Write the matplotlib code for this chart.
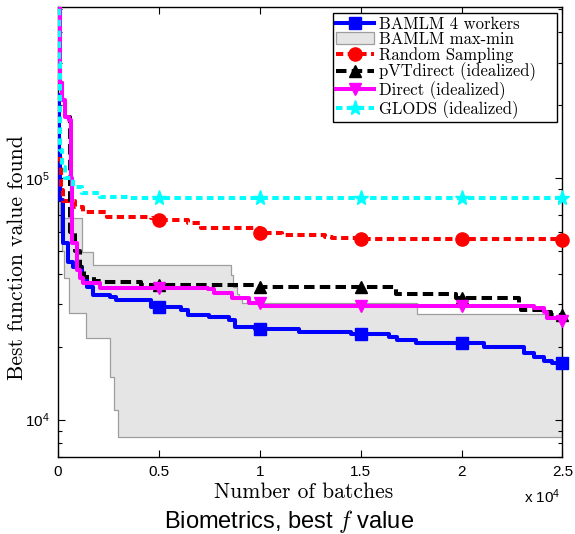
import numpy as np
import matplotlib
matplotlib.use("Agg")
import matplotlib.pyplot as plt
from matplotlib.patches import Patch
from matplotlib.lines import Line2D

plt.rcParams['mathtext.fontset'] = 'custom'
plt.rcParams['mathtext.rm'] = 'Liberation Sans'
plt.rcParams['mathtext.it'] = 'Liberation Sans:italic'
plt.rcParams['mathtext.bf'] = 'Liberation Sans:bold'
plt.rcParams['axes.unicode_minus'] = False

# ---- data: step breakpoints (batch number, best value found) ----
bamlm_x = [0, 50, 100, 250, 500, 750, 1200, 1450, 1750, 2600, 2850, 4600, 6100, 6450,
           7500, 8450, 8750, 9750, 10050, 11950, 14500, 16400, 16800, 17750, 21100,
           22600, 23100, 23600, 24100, 24500, 25000]
bamlm_y = [2.2e5, 1.3e5, 8.1e4, 5.4e4, 4.5e4, 4.3e4, 3.9e4, 3.55e4, 3.29e4, 3.22e4,
           3.13e4, 2.93e4, 2.85e4, 2.72e4, 2.67e4, 2.59e4, 2.42e4, 2.38e4, 2.36e4,
           2.31e4, 2.25e4, 2.2e4, 2.14e4, 2.08e4, 2.0e4, 1.99e4, 1.89e4, 1.82e4,
           1.74e4, 1.72e4, 1.72e4]

band_x = [0, 100, 200, 300, 550, 1200, 1400, 1600, 1750, 2600, 2750, 2950, 8550, 8650,
          8850, 8950, 9100, 17800, 24200, 25000]
band_hi = [1.5e5, 6.83e4, 6.83e4, 6.83e4, 6.83e4, 4.94e4, 4.94e4, 4.94e4, 4.37e4,
           4.37e4, 4.37e4, 4.37e4, 3.97e4, 3.55e4, 3.3e4, 3.15e4, 3.04e4, 2.74e4,
           2.67e4, 2.67e4]
band_lo = [1.0e5, 6.0e4, 5.0e4, 3.86e4, 2.77e4, 2.77e4, 2.18e4, 2.18e4, 2.18e4,
           1.5e4, 1.1e4, 8.43e3, 8.43e3, 8.43e3, 8.43e3, 8.43e3, 8.43e3, 8.43e3,
           8.43e3, 8.43e3]

random_x = [0, 150, 250, 850, 1250, 2450, 4600, 5000, 6450, 7100, 10000, 11100,
            13250, 13600, 15000, 20000, 25000]
random_y = [1.2e5, 8.9e4, 8.0e4, 7.59e4, 7.24e4, 6.9e4, 6.83e4, 6.7e4, 6.52e4,
            6.21e4, 5.93e4, 5.81e4, 5.7e4, 5.65e4, 5.6e4, 5.58e4, 5.55e4]

pvt_x = [0, 100, 200, 350, 600, 850, 1100, 1300, 1800, 2250, 4100, 10000, 16750, 19700,
         22850, 22950, 24100, 24450, 25000]
pvt_y = [5.5e5, 2.47e5, 2.1e5, 1.79e5, 6.0e4, 5.0e4, 4.3e4, 3.9e4, 3.75e4, 3.72e4,
         3.61e4, 3.55e4, 3.32e4, 3.2e4, 3.04e4, 2.85e4, 2.79e4, 2.72e4, 2.72e4]

direct_x = [0, 100, 200, 350, 550, 620, 700, 950, 1100, 1250, 2100, 7450, 7750, 8600,
            9450, 10100, 23600, 24100, 24250, 24950, 25000]
direct_y = [5.5e5, 2.47e5, 2.1e5, 1.79e5, 1.74e5, 1.0e5, 5.4e4, 4.17e4, 3.86e4,
            3.68e4, 3.52e4, 3.48e4, 3.35e4, 3.19e4, 3.04e4, 2.96e4, 2.9e4, 2.79e4,
            2.64e4, 2.56e4, 2.56e4]

glods_x = [0, 50, 100, 200, 350, 750, 1200, 2100, 3450, 25000]
glods_y = [5.5e5, 3.0e5, 1.3e5, 1.11e5, 1.0e5, 9.18e4, 8.67e4, 8.35e4, 8.27e4, 8.27e4]

marker_x = [5000, 10000, 15000, 20000, 25000]

xtick_vals = [0, 5000, 10000, 15000, 20000, 25000]
xtick_labels = ['0', '0.5', '1', '1.5', '2', '2.5']


def step_value(xb, yb, xq):
    """Value of a post-step series at the query positions."""
    xb = np.asarray(xb, float)
    idx = np.searchsorted(xb, xq, side='right') - 1
    return np.asarray(yb, float)[idx]


fig = plt.figure(figsize=(5.75, 5.34), dpi=100)
ax = fig.add_axes([0.1009, 0.1442, 0.8773, 0.8427])

lw = 2.9
gray_face = (0.898, 0.898, 0.898)
gray_edge = (0.62, 0.62, 0.62)

ax.fill_between(band_x, band_lo, band_hi, step='post', facecolor=gray_face,
                edgecolor=gray_edge, linewidth=0.9, zorder=1)

series = [
    (bamlm_x, bamlm_y, (0, 0, 1), 's', 8, '-'),
    (random_x, random_y, (1, 0, 0), 'o', 9.5, (0, (1.8, 1.1))),
    (pvt_x, pvt_y, 'k', '^', 9, (0, (2.6, 1.3))),
    (direct_x, direct_y, (1, 0, 1), 'v', 9, '-'),
    (glods_x, glods_y, (0, 1, 1), '*', 11, (0, (1.6, 1.1))),
]
for k, (xb, yb, col, mk, ms, ls) in enumerate(series):
    z = 3 + k * 0.1
    ax.plot(xb, yb, drawstyle='steps-post', lw=lw, color=col, linestyle=ls,
            dash_capstyle='butt', zorder=z)
    ax.plot(marker_x, step_value(xb, yb, marker_x), linestyle='none', marker=mk,
            ms=ms, color=col, zorder=z + 0.05, clip_on=False)

ax.set_yscale('log')
ax.set_xlim(0, 25000)
ax.set_ylim(7.0e3, 5.1e5)

ax.set_xticks(xtick_vals)
ax.set_xticklabels(xtick_labels)
ax.tick_params(axis='both', which='major', direction='in', length=5, width=0.8,
               top=True, right=True, labelsize=11, pad=6)
ax.tick_params(axis='both', which='minor', direction='in', length=3, width=0.8,
               top=True, right=True)
ax.xaxis.set_minor_locator(matplotlib.ticker.NullLocator())
for lab in ax.get_xticklabels() + ax.get_yticklabels():
    lab.set_fontfamily('Liberation Sans')
for sp in ax.spines.values():
    sp.set_linewidth(1.0)

ax.set_xlabel('Number of batches', fontfamily='cmr10', fontsize=15.5)
ax.xaxis.set_label_coords(0.487, -0.078)
ax.xaxis.label.set_verticalalignment('center')
ax.set_ylabel('Best function value found', fontfamily='cmr10', fontsize=15.5)
ax.yaxis.set_label_coords(-0.081, 0.442)
ax.yaxis.label.set_verticalalignment('center')

fig.text(0.975, 0.069, r'x 10$^{4}$', ha='right', va='center', fontsize=11,
         fontfamily='Liberation Sans')
fig.text(0.503, 0.012, r'Biometrics, best $f$ value', ha='center', va='baseline',
         fontsize=17, fontfamily='Liberation Sans', math_fontfamily='cm')

handles = [
    Line2D([], [], color=(0, 0, 1), lw=lw, marker='s', ms=8),
    Patch(facecolor=gray_face, edgecolor=gray_edge, linewidth=0.9),
    Line2D([], [], color=(1, 0, 0), lw=lw, marker='o', ms=9.5, linestyle=(0, (1.8, 1.1)),
           dash_capstyle='butt'),
    Line2D([], [], color='k', lw=lw, marker='^', ms=9, linestyle=(0, (2.6, 1.3)),
           dash_capstyle='butt'),
    Line2D([], [], color=(1, 0, 1), lw=lw, marker='v', ms=9),
    Line2D([], [], color=(0, 1, 1), lw=lw, marker='*', ms=11, linestyle=(0, (1.6, 1.1)),
           dash_capstyle='butt'),
]
labels = ['BAMLM 4 workers', 'BAMLM max-min', 'Random Sampling',
          'pVTdirect (idealized)', 'Direct (idealized)', 'GLODS (idealized)']
leg = ax.legend(handles, labels, loc='upper left',
                bbox_to_anchor=(0.5446, 0.9867, 0.4436, 0.0), mode='expand',
                prop={'family': 'cmr10', 'size': 12},
                frameon=True, fancybox=False, edgecolor='k', framealpha=1,
                labelspacing=0.0, handlelength=2.3, handletextpad=0.3,
                borderpad=0.2, borderaxespad=0.0)
leg.get_frame().set_linewidth(1.0)

fig.savefig('out.png', dpi=100)
